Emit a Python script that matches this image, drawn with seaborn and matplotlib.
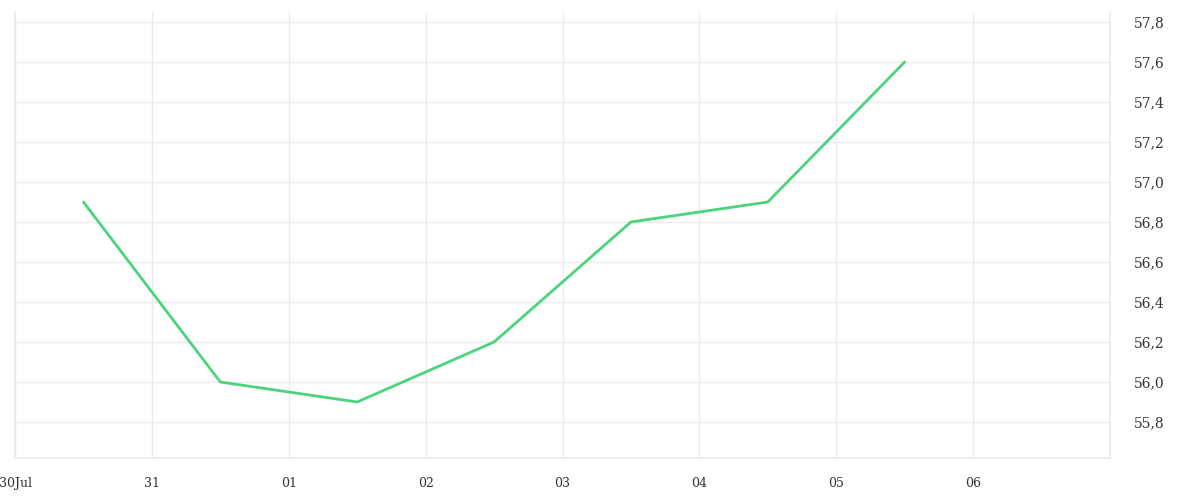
import matplotlib
matplotlib.use("Agg")
import matplotlib.pyplot as plt
import matplotlib.ticker as mticker
import pandas as pd
import seaborn as sns

# Data (daily values, plotted at noon)
dates = ["2023-07-30 12:00", "2023-07-31 12:00", "2023-08-01 12:00", "2023-08-02 12:00",
         "2023-08-03 12:00", "2023-08-04 12:00", "2023-08-05 12:00"]
values = [56.9, 56.0, 55.9, 56.2, 56.8, 56.9, 57.6]
tick_days = ["2023-07-30", "2023-07-31", "2023-08-01", "2023-08-02",
             "2023-08-03", "2023-08-04", "2023-08-05", "2023-08-06"]
tick_labels = ["30Jul", "31", "01", "02", "03", "04", "05", "06"]
y_ticks = [55.8, 56.0, 56.2, 56.4, 56.6, 56.8, 57.0, 57.2, 57.4, 57.6, 57.8]

df = pd.DataFrame({"date": pd.to_datetime(dates), "value": values})

sns.set_theme(style="white")
plt.rcParams["font.family"] = ["DejaVu Serif"]

fig = plt.figure(figsize=(12, 5), dpi=100)
ax = fig.add_axes([15 / 1200, 42 / 500, 1095 / 1200, 446 / 500])

sns.lineplot(data=df, x="date", y="value", ax=ax, color="#4cd47c", linewidth=2)

ax.set_xlim(pd.Timestamp("2023-07-30"), pd.Timestamp("2023-08-07"))
ax.set_ylim(55.62, 57.85)

ax.set_xticks(pd.to_datetime(tick_days))
ax.set_xticklabels(tick_labels)
ax.set_yticks(y_ticks)
ax.yaxis.set_major_formatter(mticker.FuncFormatter(lambda v, p: f"{v:.1f}".replace(".", ",")))

ax.yaxis.tick_right()
ax.grid(True, color="#ebebeb", linewidth=1)
ax.spines["top"].set_visible(False)
for side in ["bottom", "right", "left"]:
    ax.spines[side].set_color("#ebebeb")

ax.tick_params(axis="x", length=10, color="#ebebeb", labelsize=9, labelcolor="#333333", pad=4)
ax.tick_params(axis="y", length=0, labelsize=10, labelcolor="#333333", pad=17)
ax.set_xlabel("")
ax.set_ylabel("")

fig.savefig("out.png", dpi=100)
